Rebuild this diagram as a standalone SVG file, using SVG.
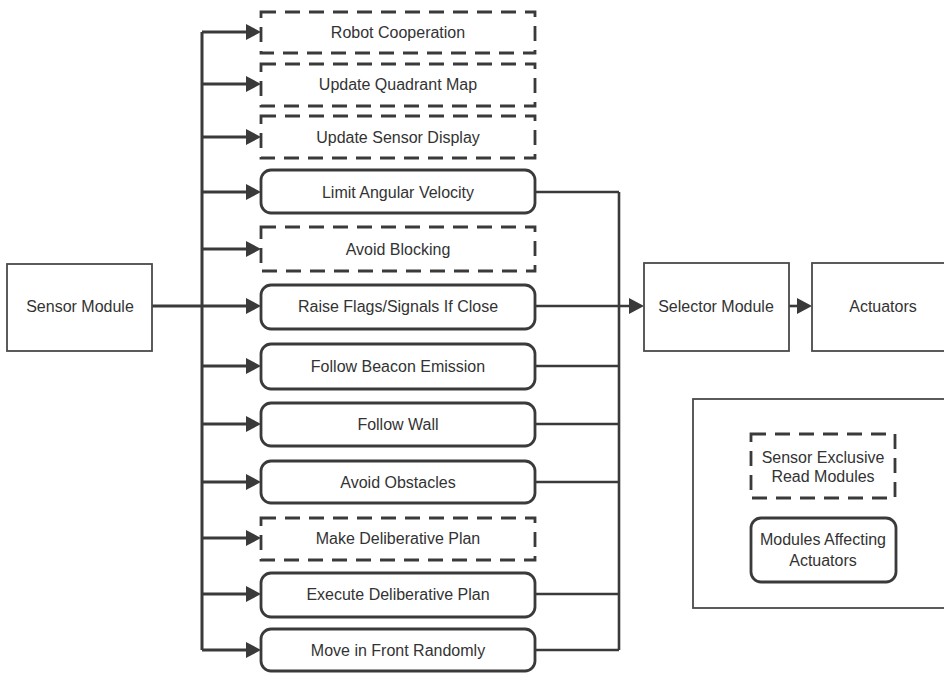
<svg xmlns="http://www.w3.org/2000/svg" width="944" height="673" viewBox="0 0 944 673">
  <style>
    text { font-family: "Liberation Sans", Arial, sans-serif; font-size: 16px; fill: #333; text-anchor: middle; }
    .mod { fill: #fff; stroke: #3a3a3a; stroke-width: 2.8; }
    .solid { rx: 10; ry: 10; }
    .dash { stroke-dasharray: 15 9; }
    .plain { fill: #fff; stroke: #4a4a4a; stroke-width: 1.8; }
    .wire { fill: none; stroke: #3a3a3a; stroke-width: 3; }
    .thin { fill: none; stroke: #3a3a3a; stroke-width: 2.6; }
  </style>
  <defs>
    <marker id="arrow" markerUnits="userSpaceOnUse" markerWidth="15" markerHeight="16" refX="0" refY="8" orient="auto">
      <path d="M0,0 L15,8 L0,16 z" fill="#3a3a3a"/>
    </marker>
  </defs>

  <rect width="944" height="673" fill="#fff"/>

  <!-- connectors -->
  <g id="connectors">
    <!-- sensor bus -->
    <path class="wire" d="M202,32 V650"/>
    <path class="wire" d="M152,306 H246" marker-end="url(#arrow)"/>
    <path class="wire" d="M202,32 H246" marker-end="url(#arrow)"/>
    <path class="wire" d="M202,84 H246" marker-end="url(#arrow)"/>
    <path class="wire" d="M202,137 H246" marker-end="url(#arrow)"/>
    <path class="wire" d="M202,192 H246" marker-end="url(#arrow)"/>
    <path class="wire" d="M202,249 H246" marker-end="url(#arrow)"/>
    <path class="wire" d="M202,366 H246" marker-end="url(#arrow)"/>
    <path class="wire" d="M202,424 H246" marker-end="url(#arrow)"/>
    <path class="wire" d="M202,482 H246" marker-end="url(#arrow)"/>
    <path class="wire" d="M202,538 H246" marker-end="url(#arrow)"/>
    <path class="wire" d="M202,594 H246" marker-end="url(#arrow)"/>
    <path class="wire" d="M202,650 H246" marker-end="url(#arrow)"/>
    <!-- selector bus -->
    <path class="thin" d="M619,192 V650"/>
    <path class="thin" d="M535,192 H619"/>
    <path class="thin" d="M535,366 H619"/>
    <path class="thin" d="M535,424 H619"/>
    <path class="thin" d="M535,482 H619"/>
    <path class="thin" d="M535,594 H619"/>
    <path class="thin" d="M535,650 H619"/>
    <path class="thin" d="M535,306 H629" marker-end="url(#arrow)"/>
    <path class="thin" d="M789,306 H797" marker-end="url(#arrow)"/>
  </g>

  <g id="sensor-module">
    <rect class="plain" x="7" y="264" width="145" height="87"/>
    <text x="80" y="312">Sensor Module</text>
  </g>

  <g id="robot-cooperation">
    <rect class="mod dash" x="261" y="12" width="274" height="41"/>
    <text x="398" y="38">Robot Cooperation</text>
  </g>
  <g id="update-quadrant-map">
    <rect class="mod dash" x="261" y="64" width="274" height="42"/>
    <text x="398" y="90">Update Quadrant Map</text>
  </g>
  <g id="update-sensor-display">
    <rect class="mod dash" x="261" y="116" width="274" height="42"/>
    <text x="398" y="143">Update Sensor Display</text>
  </g>
  <g id="limit-angular-velocity">
    <rect class="mod solid" x="261" y="170" width="274" height="43"/>
    <text x="398" y="198">Limit Angular Velocity</text>
  </g>
  <g id="avoid-blocking">
    <rect class="mod dash" x="261" y="227" width="274" height="44"/>
    <text x="398" y="255">Avoid Blocking</text>
  </g>
  <g id="raise-flags">
    <rect class="mod solid" x="261" y="285" width="274" height="44"/>
    <text x="398" y="312">Raise Flags/Signals If Close</text>
  </g>
  <g id="follow-beacon">
    <rect class="mod solid" x="261" y="344" width="274" height="45"/>
    <text x="398" y="372">Follow Beacon Emission</text>
  </g>
  <g id="follow-wall">
    <rect class="mod solid" x="261" y="403" width="274" height="43"/>
    <text x="398" y="430">Follow Wall</text>
  </g>
  <g id="avoid-obstacles">
    <rect class="mod solid" x="261" y="461" width="274" height="42"/>
    <text x="398" y="488">Avoid Obstacles</text>
  </g>
  <g id="make-deliberative-plan">
    <rect class="mod dash" x="261" y="518" width="274" height="42"/>
    <text x="398" y="544">Make Deliberative Plan</text>
  </g>
  <g id="execute-deliberative-plan">
    <rect class="mod solid" x="261" y="573" width="274" height="44"/>
    <text x="398" y="600">Execute Deliberative Plan</text>
  </g>
  <g id="move-in-front-randomly">
    <rect class="mod solid" x="261" y="629" width="274" height="42"/>
    <text x="398" y="656">Move in Front Randomly</text>
  </g>

  <g id="selector-module">
    <rect class="plain" x="644" y="263" width="145" height="88"/>
    <text x="716" y="312">Selector Module</text>
  </g>
  <g id="actuators">
    <rect class="plain" x="812" y="263" width="145" height="88"/>
    <text x="883" y="312">Actuators</text>
  </g>

  <g id="legend">
    <rect class="plain" x="693" y="399" width="260" height="209"/>
    <rect class="mod dash" x="751" y="434" width="144" height="64"/>
    <text x="823" y="463">Sensor Exclusive</text>
    <text x="823" y="482">Read Modules</text>
    <rect class="mod solid" x="751" y="518" width="145" height="64"/>
    <text x="823" y="545">Modules Affecting</text>
    <text x="823" y="566">Actuators</text>
  </g>
</svg>
